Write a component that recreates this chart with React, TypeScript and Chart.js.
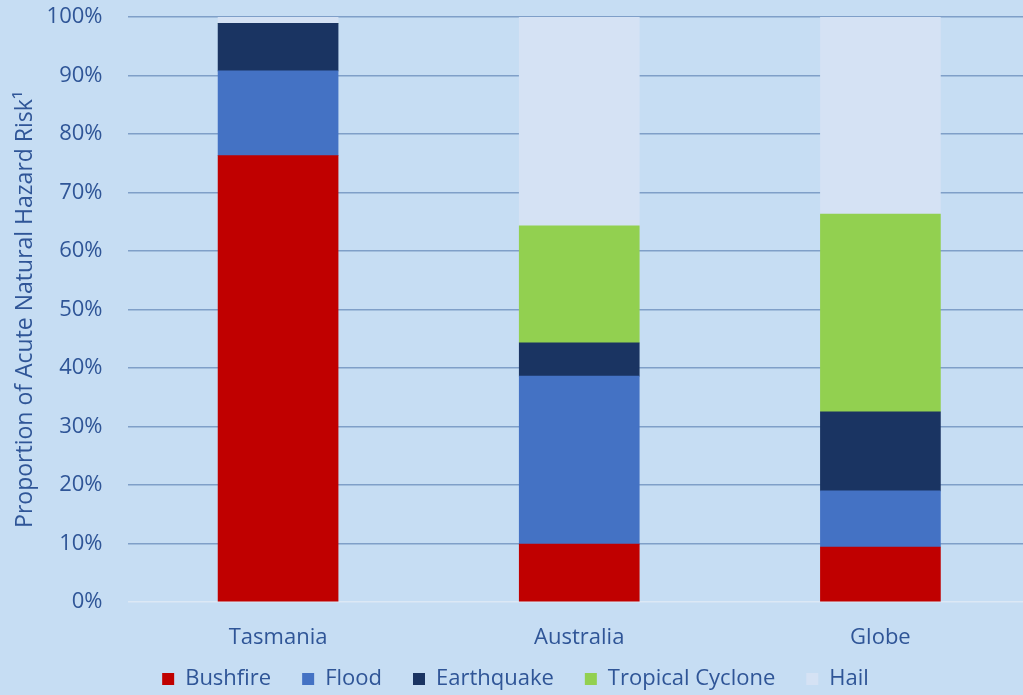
import React, { useEffect, useRef } from "react";
import { Chart, registerables } from "chart.js";

Chart.register(...registerables);

const regions = ["Tasmania", "Australia", "Globe"];
const bushfire = [76.3, 9.9, 9.4];
const flood = [14.5, 28.7, 9.6];
const earthquake = [8.1, 5.7, 13.5];
const tropicalCyclone = [0, 20.0, 33.8];
const hail = [1.1, 35.7, 33.7];
const yTicks = [0, 10, 20, 30, 40, 50, 60, 70, 80, 90, 100];

const FONT = "'Open Sans', sans-serif";
const TEXT = "#2f5597";
const BG = "#c6ddf3";

export default function App() {
  const ref = useRef<HTMLCanvasElement | null>(null);

  useEffect(() => {
    if (!ref.current) return;
    const chart = new Chart(ref.current, {
      type: "bar",
      data: {
        labels: regions,
        datasets: [
          { label: "Bushfire", data: bushfire, backgroundColor: "#c00000" },
          { label: "Flood", data: flood, backgroundColor: "#4472c4" },
          { label: "Earthquake", data: earthquake, backgroundColor: "#1a3462" },
          { label: "Tropical Cyclone", data: tropicalCyclone, backgroundColor: "#92d050" },
          { label: "Hail", data: hail, backgroundColor: "#d5e2f4" },
        ],
      },
      options: {
        responsive: false,
        animation: false,
        layout: { padding: 0 },
        datasets: { bar: { barThickness: 120 } },
        plugins: {
          tooltip: { enabled: false },
          legend: {
            position: "bottom",
            labels: {
              color: TEXT,
              font: { family: FONT, size: 22 },
              boxWidth: 12,
              boxHeight: 12,
              padding: 31,
            },
          },
        },
        scales: {
          x: {
            stacked: true,
            grid: { display: false },
            border: { display: false },
            ticks: { color: TEXT, font: { family: FONT, size: 22 }, padding: 15 },
            afterFit: (scale: any) => {
              scale.height = 35;
              // category labels may extend into the legend band
              scale._computeLabelArea = () => undefined;
            },
          },
          y: {
            stacked: true,
            min: 0,
            max: 100,
            afterBuildTicks: (scale: any) => {
              scale.ticks = yTicks.map((v) => ({ value: v }));
            },
            afterFit: (scale: any) => {
              scale.width = 127.5;
              scale.paddingTop = 17;
            },
            grid: {
              drawTicks: false,
              lineWidth: 1.5,
              color: (ctx: any) => (ctx.tick && ctx.tick.value === 0 ? "#dce8f5" : "#7f9fc8"),
            },
            border: { display: false },
            ticks: {
              color: TEXT,
              font: { family: FONT, size: 22 },
              padding: 25,
              callback: (v: any) => v + "%",
            },
            title: {
              display: true,
              text: "Proportion of Acute Natural Hazard Risk\u00b9",
              color: TEXT,
              font: { family: FONT, size: 23 },
              padding: { top: 12, bottom: 0 },
            },
          },
        },
      },
    });
    return () => chart.destroy();
  }, []);

  return (
    <div
      style={{
        position: "fixed",
        left: 0,
        top: 0,
        width: 1023,
        height: 695,
        overflow: "hidden",
        background: BG,
      }}
    >
      <canvas ref={ref} width={1031} height={700} style={{ width: 1031, height: 700, display: "block" }} />
    </div>
  );
}
